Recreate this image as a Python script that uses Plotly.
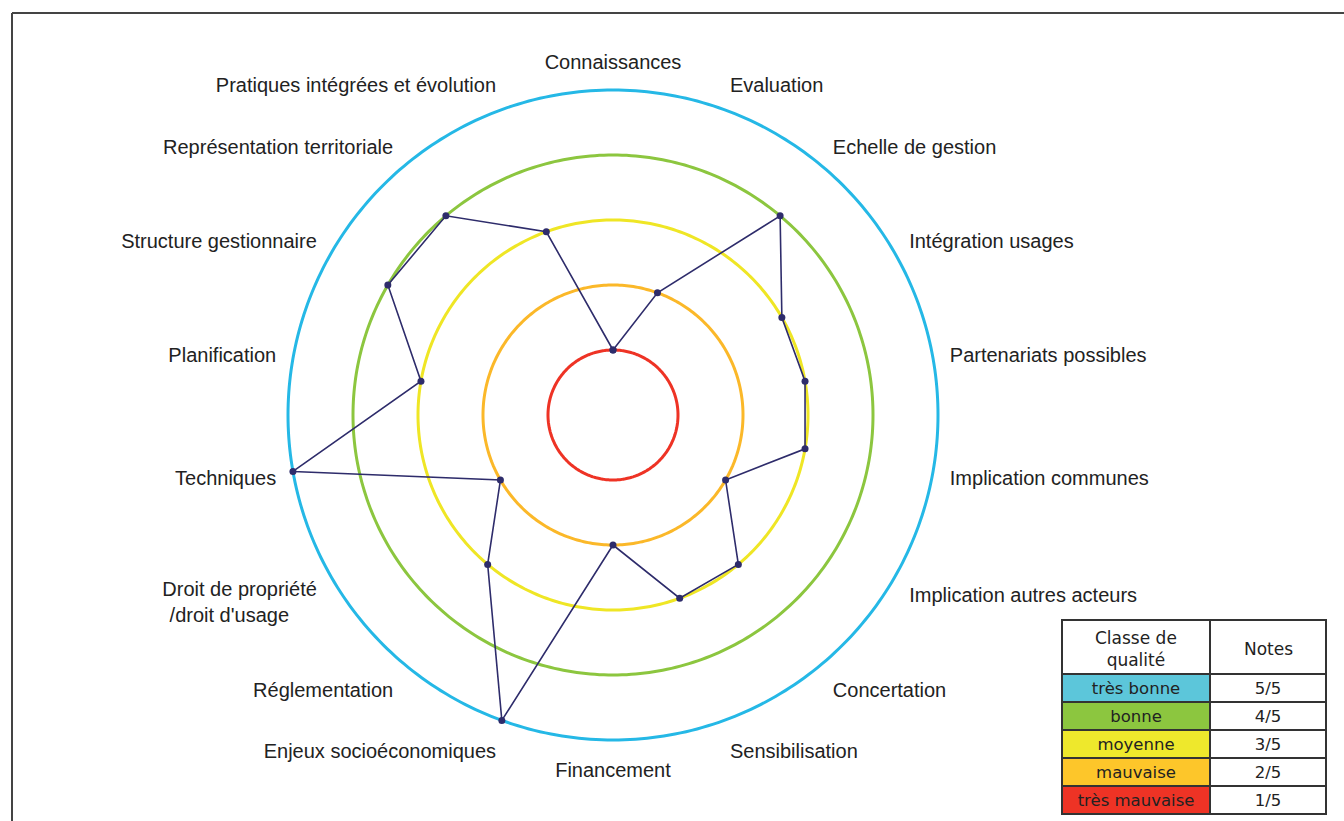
import plotly.graph_objects as go
import numpy as np

# axes of the radar, clockwise from the top
categories = ["Connaissances", "Evaluation", "Echelle de gestion", "Intégration usages",
              "Partenariats possibles", "Implication communes", "Implication autres acteurs",
              "Concertation", "Sensibilisation", "Financement", "Enjeux socioéconomiques",
              "Réglementation", "Droit de propriété<br>/droit d'usage\u00a0\u00a0\u00a0\u00a0\u00a0",
              "Techniques", "Planification", "Structure gestionnaire",
              "Représentation territoriale", "Pratiques intégrées et évolution"]
scores = [1, 2, 4, 3, 3, 3, 2, 3, 3, 2, 5, 3, 2, 5, 3, 4, 4, 3]

# quality classes (legend table + circles)
header = ["Classe de<br>qualité", "Notes"]
classes = ["très bonne", "bonne", "moyenne", "mauvaise", "très mauvaise"]
notes = ["5/5", "4/5", "3/5", "2/5", "1/5"]
levels = [5, 4, 3, 2, 1]
ring_colors = ["#25B8E6", "#8CC63F", "#EFE625", "#FBB829", "#EE3325"]
cell_colors = ["#5CC6DA", "#8CC63F", "#EEE82C", "#FDC62A", "#EE3325"]

angles = [i * 360 / len(categories) for i in range(len(categories))]

fig = go.Figure()

circle = np.linspace(0, 360, 361)
for lv, col in zip(levels, ring_colors):
    fig.add_trace(go.Scatterpolar(r=[lv] * len(circle), theta=circle, mode="lines",
                                  line=dict(color=col, width=3), hoverinfo="skip",
                                  cliponaxis=False, showlegend=False))

fig.add_trace(go.Scatterpolar(r=scores + scores[:1], theta=angles + angles[:1],
                              mode="lines+markers", cliponaxis=False,
                              line=dict(color="#2E2C6B", width=1.6),
                              marker=dict(color="#2E2C6B", size=7),
                              showlegend=False))

# table at bottom right, header text added as annotations (centered lines)
tx0, tx1 = 1062 / 1344, 1326 / 1344
fig.add_trace(go.Table(
    domain=dict(x=[tx0, tx1], y=[0, 201 / 821]),
    columnwidth=[148, 116],
    header=dict(values=["", ""],
                fill_color="white", line=dict(color="#333333", width=1.5),
                height=54),
    cells=dict(values=[classes, notes],
               fill_color=[cell_colors, ["white"] * 5],
               line=dict(color="#333333", width=1.5),
               font=dict(family="DejaVu Sans", size=16.5, color="#222222"),
               align="center", height=28),
))

header_x = [1136 / 1344, 1268 / 1344]
annotations = [dict(text=h, x=hx, y=1 - 649 / 821, xref="paper", yref="paper",
                    xanchor="center", yanchor="middle", showarrow=False, align="center",
                    font=dict(family="DejaVu Sans", size=17, color="#222222"))
               for h, hx in zip(header, header_x)]

# radial range a bit beyond 5 so the outer ring is not clipped
rmax = 5.1
half = 65 * rmax
fig.update_layout(
    width=1344, height=821,
    margin=dict(l=0, r=0, t=0, b=0),
    paper_bgcolor="white",
    font=dict(family="Liberation Sans, Arial", size=20, color="#222222"),
    polar=dict(
        domain=dict(x=[(613 - half) / 1344, (613 + half) / 1344],
                    y=[(821 - 415 - half) / 821, (821 - 415 + half) / 821]),
        bgcolor="white",
        radialaxis=dict(range=[0, rmax], visible=False, showgrid=False),
        angularaxis=dict(type="linear", rotation=90, direction="clockwise",
                         tickmode="array", tickvals=angles, ticktext=categories,
                         showgrid=False, showline=False, ticks="outside",
                         ticklen=6, tickcolor="rgba(0,0,0,0)",
                         tickfont=dict(size=20, color="#222222")),
    ),
    annotations=annotations,
    shapes=[
        dict(type="line", xref="paper", yref="paper", x0=12 / 1344, x1=1.02,
             y0=1 - 13 / 821, y1=1 - 13 / 821, line=dict(color="#444444", width=2)),
        dict(type="line", xref="paper", yref="paper", x0=12 / 1344, x1=12 / 1344,
             y0=-0.02, y1=1 - 13 / 821, line=dict(color="#444444", width=2)),
    ],
)

fig.write_html("out.html", config={"displayModeBar": False},
               post_script="document.body.style.margin='0';")
